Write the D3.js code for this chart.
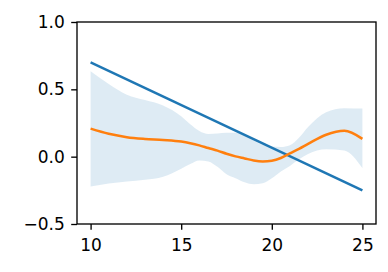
<!DOCTYPE html>
<html>
<head>
<meta charset="utf-8">
<script src="https://cdn.jsdelivr.net/npm/d3@7"></script>
<style>
  body { margin: 0; background: #fff; }
  svg text { font-family: "DejaVu Sans", sans-serif; }
</style>
</head>
<body>
<div id="chart"></div>
<script>
// Chart size
const width = 388;
const height = 272;
const margin = {top: 22, right: 12, bottom: 48, left: 77};

// Data
const lineX = [10, 25];
const lineY = [0.7, -0.25];

const curveX = [10, 11, 12, 13, 14, 15, 15.5, 16, 16.5, 17, 17.5, 18, 18.5, 19, 19.5, 20, 20.5, 21, 21.5, 22, 23, 24, 25];
const meanY  = [0.208, 0.17, 0.145, 0.132, 0.124, 0.112, 0.10, 0.084, 0.064, 0.045, 0.022, 0.002, -0.013, -0.028, -0.035, -0.03, -0.01, 0.025, 0.058, 0.095, 0.163, 0.192, 0.132];
const upperY = [0.635, 0.54, 0.46, 0.42, 0.38, 0.30, 0.24, 0.19, 0.168, 0.172, 0.178, 0.177, 0.16, 0.12, 0.088, 0.075, 0.072, 0.085, 0.14, 0.22, 0.33, 0.36, 0.357];
const lowerY = [-0.222, -0.20, -0.185, -0.172, -0.15, -0.09, -0.055, -0.028, -0.035, -0.075, -0.13, -0.16, -0.19, -0.205, -0.197, -0.16, -0.11, -0.07, -0.02, 0.02, 0.055, 0.045, -0.085];

const xTicks = [10, 15, 20, 25];
const yTicks = [-0.5, 0.0, 0.5, 1.0];

const svg = d3.select("#chart")
  .append("svg")
  .attr("width", width)
  .attr("height", height);

const x = d3.scaleLinear().domain([9.25, 25.75]).range([margin.left, width - margin.right]);
const y = d3.scaleLinear().domain([-0.5, 1.0]).range([height - margin.bottom, margin.top]);

const pts = curveX.map((cx, i) => ({x: cx, m: meanY[i], u: upperY[i], l: lowerY[i]}));

// shaded band
svg.append("path")
  .datum(pts)
  .attr("d", d3.area()
    .x(d => x(d.x))
    .y0(d => y(d.l))
    .y1(d => y(d.u))
    .curve(d3.curveMonotoneX))
  .attr("fill", "#1f77b4")
  .attr("opacity", 0.15);

// straight blue line
svg.append("path")
  .datum(lineX.map((lx, i) => [lx, lineY[i]]))
  .attr("d", d3.line().x(d => x(d[0])).y(d => y(d[1])))
  .attr("fill", "none")
  .attr("stroke", "#1f77b4")
  .attr("stroke-width", 2.5);

// orange mean curve
svg.append("path")
  .datum(pts)
  .attr("d", d3.line()
    .x(d => x(d.x))
    .y(d => y(d.m))
    .curve(d3.curveMonotoneX))
  .attr("fill", "none")
  .attr("stroke", "#ff7f0e")
  .attr("stroke-width", 2.5);

// axes
const fmt = d => d < 0 ? "\u2212" + Math.abs(d).toFixed(1) : d.toFixed(1);

const xAxis = svg.append("g")
  .attr("transform", `translate(0,${height - margin.bottom})`)
  .call(d3.axisBottom(x).tickValues(xTicks).tickSize(5.8).tickPadding(9).tickFormat(d3.format("d")));

const yAxis = svg.append("g")
  .attr("transform", `translate(${margin.left},0)`)
  .call(d3.axisLeft(y).tickValues(yTicks).tickSize(5.8).tickPadding(6.5).tickFormat(fmt));

[xAxis, yAxis].forEach(g => {
  g.select(".domain").remove();
  g.selectAll("line").attr("stroke", "#000").attr("stroke-width", 1.33);
  g.selectAll("text").attr("fill", "#000").style("font-size", "17px").style("font-family", "DejaVu Sans");
});

// frame
svg.append("rect")
  .attr("x", margin.left)
  .attr("y", margin.top)
  .attr("width", width - margin.left - margin.right)
  .attr("height", height - margin.top - margin.bottom)
  .attr("fill", "none")
  .attr("stroke", "#000")
  .attr("stroke-width", 1.33);
</script>
</body>
</html>
